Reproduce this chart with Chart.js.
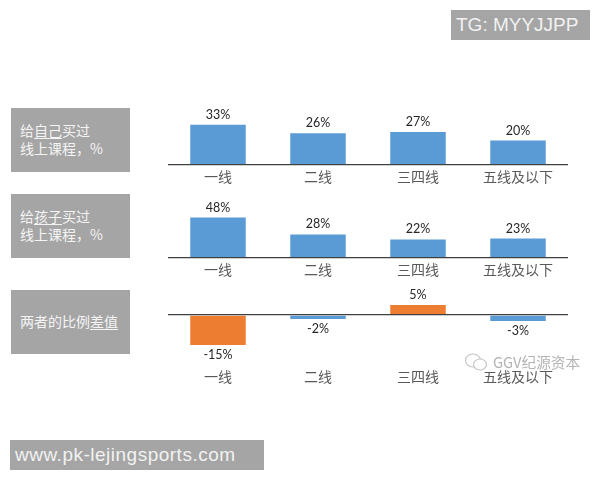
<!DOCTYPE html>
<html>
<head>
<meta charset="utf-8">
<script src="https://cdn.jsdelivr.net/npm/chart.js@4"></script>
<style>
  html, body { margin: 0; padding: 0; background: #fff; }
  #page { position: relative; width: 600px; height: 480px; overflow: hidden; }
  canvas { position: absolute; left: 168px; }
  .tag { position: absolute; left: 11px; width: 119px; height: 64px; background: #a5a5a5; color: #f4f4f4;
         font: 14px/18px "Noto Sans CJK SC", sans-serif; box-sizing: border-box; padding: 13px 0 0 9px; white-space: nowrap; }
  .tag u { text-underline-offset: 2px; }
  .banner { position: absolute; background: #a5a5a5; color: #f2f2f2; font-family: "Liberation Sans", sans-serif;
            line-height: 30px; height: 30px; box-sizing: border-box; white-space: nowrap; font-size: 19px; }
  #mark { position: absolute; left: 464px; top: 352px; color: #b4b4b4; font: 14.7px/20px "Noto Sans CJK SC", sans-serif;
          white-space: nowrap; display: flex; align-items: center; gap: 5px; z-index: 2; }
</style>
</head>
<body>
<div id="page">
  <div class="banner" style="left:451px;top:10px;width:139px;padding-left:5px">TG: MYYJJPP</div>

  <div class="tag" style="top:108px">给<u>自己</u>买过<br>线上课程，%</div>
  <div class="tag" style="top:194px">给<u>孩子</u>买过<br>线上课程，%</div>
  <div class="tag" style="top:290px;padding-top:22px">两者的比例<u>差值</u></div>

  <canvas id="chartSelf" style="top:103.5px" width="400" height="85"></canvas>
  <canvas id="chartKids" style="top:199px" width="400" height="83"></canvas>
  <canvas id="chartDiff" style="top:285px" width="400" height="104"></canvas>

  <div id="mark">
    <svg width="24" height="18" viewBox="0 0 24 18"><ellipse cx="9" cy="7.5" rx="7.5" ry="6.5" fill="none" stroke="#c4c4c4" stroke-width="1.2"/><ellipse cx="16" cy="11.5" rx="6.5" ry="5.5" fill="#fff" stroke="#c4c4c4" stroke-width="1.2"/></svg>
    <span>GGV纪源资本</span>
  </div>

  <div class="banner" style="left:10px;top:440px;width:254px;padding-left:5px;letter-spacing:.5px">www.pk-lejingsports.com</div>
</div>

<script>
// 数据
const cityTiers = ['一线', '二线', '三四线', '五线及以下'];
const selfValues = [33, 26, 27, 20];
const kidsValues = [48, 28, 22, 23];
const diffValues = [-15, -2, 5, -3];

const blue = '#5b9bd5';
const orange = '#ed7d31';
const diffColors = [orange, blue, orange, blue];

// 柱子上方/下方的百分比标签
const valueLabels = {
    id: 'valueLabels',
    afterDatasetsDraw(chart) {
        const ctx = chart.ctx;
        const values = chart.data.datasets[0].data;
        ctx.save();
        ctx.font = '12.5px Lato, "Open Sans", sans-serif';
        ctx.fillStyle = '#262626';
        ctx.textAlign = 'center';
        ctx.textBaseline = 'middle';
        chart.getDatasetMeta(0).data.forEach((bar, i) => {
            const offset = values[i] < 0 ? 10 : -10;
            ctx.fillText(values[i] + '%', bar.x, bar.y + offset);
        });
        ctx.restore();
    }
};

function drawBars(id, values, colors, yMin, yMax, step) {
    return new Chart(document.getElementById(id), {
        type: 'bar',
        data: {
            labels: cityTiers,
            datasets: [{
                data: values,
                backgroundColor: colors,
                categoryPercentage: 1,
                barPercentage: 0.555
            }]
        },
        options: {
            responsive: false,
            animation: false,
            layout: { padding: 0 },
            plugins: { legend: { display: false }, tooltip: { enabled: false } },
            scales: {
                x: {
                    grid: { display: false, drawTicks: false },
                    border: { display: false },
                    afterFit: scale => { scale.height = 24; },
                    ticks: {
                        padding: 3,
                        maxRotation: 0,
                        autoSkip: false,
                        color: '#595959',
                        font: { family: '"Noto Sans CJK SC"', size: 14 }
                    }
                },
                y: {
                    min: yMin,
                    max: yMax,
                    afterFit: scale => { scale.width = 0; },
                    border: { display: false },
                    ticks: { display: false, stepSize: step },
                    // 只保留零刻度线作为基线
                    grid: {
                        z: 1,
                        drawTicks: false,
                        lineWidth: 1.3,
                        color: c => c.tick.value === 0 ? '#404040' : 'rgba(0,0,0,0)'
                    }
                }
            }
        },
        plugins: [valueLabels]
    });
}

drawBars('chartSelf', selfValues, blue, 0, 50, 10);
drawBars('chartKids', kidsValues, blue, 0, 70, 10);
drawBars('chartDiff', diffValues, diffColors, -25, 15, 5);
</script>
</body>
</html>
